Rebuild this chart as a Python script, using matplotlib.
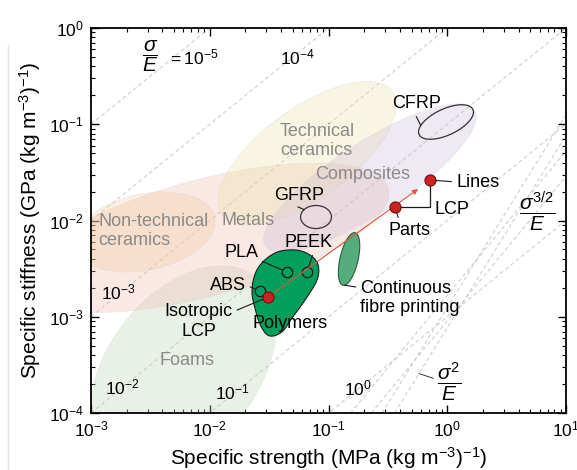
#!/usr/bin/env python3
import numpy as np
import matplotlib.pyplot as plt
from matplotlib.patches import Polygon
from matplotlib.lines import Line2D

plt.rcParams['font.family'] = ['Liberation Sans', 'DejaVu Sans']
plt.rcParams['mathtext.fontset'] = 'custom'
plt.rcParams['mathtext.rm'] = 'Liberation Sans'
plt.rcParams['mathtext.it'] = 'Liberation Sans:italic'
plt.rcParams['mathtext.bf'] = 'Liberation Sans:bold'

# background material families: centre (strength, stiffness), semi-axes in decades, tilt
family_names = ['Foams', 'Metals', 'Non-technical\nceramics', 'Technical\nceramics', 'Composites']
family_strength = [0.0060, 0.0091, 0.00285, 0.066, 0.223]
family_stiffness = [0.00029, 0.0066, 0.0076, 0.050, 0.0276]
family_major = [0.98, 1.60, 0.60, 0.885, 1.05]
family_minor = [0.63, 0.49, 0.32, 0.38, 0.30]
family_tilt = [52, 15, 12, 36, 33]
family_colors = ['#bbd4b6', '#f2b8ad', '#f2cfa0', '#ebe4a7', '#cdbbd9']

# fibre composites (outlined)
fibre_names = ['GFRP', 'CFRP']
fibre_strength = [0.0785, 0.976]
fibre_stiffness = [0.01087, 0.1055]
fibre_major = [0.13, 0.25]
fibre_minor = [0.097, 0.11]
fibre_tilt = [0, 25]

# continuous fibre printing
cfp_strength = 0.149
cfp_stiffness = 0.00398
cfp_major = 0.227
cfp_minor = 0.076
cfp_tilt = 77

# printed polymers envelope
polymer_strength = [0.0354, 0.0523, 0.0698, 0.0817, 0.0800, 0.0634, 0.0493,
                    0.0405, 0.0321, 0.0275, 0.0245, 0.0227, 0.0255]
polymer_stiffness = [0.00459, 0.00494, 0.00438, 0.00345, 0.00241, 0.00149, 0.00097,
                     0.000695, 0.000631, 0.000764, 0.00112, 0.00190, 0.00321]

# common printed polymers
print_names = ['PLA', 'ABS', 'PEEK']
print_strength = [0.0448, 0.0265, 0.0659]
print_stiffness = [0.00292, 0.00185, 0.00292]

# LCP results
lcp_names = ['Isotropic\nLCP', 'Parts', 'Lines']
lcp_strength = [0.0309, 0.363, 0.716]
lcp_stiffness = [0.00160, 0.0138, 0.0263]
arrow_tip = (0.568, 0.0212)

# guide lines
ratio_values = [1e-5, 1e-4, 1e-3, 1e-2, 1e-1, 1e0]
c15_values = [1100, 600]
c2_values = [1300, 800]

green = '#00a05c'
red = '#cc2222'
gray_txt = '#8a8a8a'

fig = plt.figure(figsize=(5.77, 4.70), dpi=100)
ax = fig.add_axes([91 / 577, 1 - 413 / 470, 475 / 577, 385 / 470])
ax.set_xscale('log')
ax.set_yscale('log')
ax.set_xlim(1e-3, 10)
ax.set_ylim(1e-4, 1)

# visual aspect: pixels per x-decade over pixels per y-decade
K = (5.77 * 475 / 577) / (4.70 * 385 / 470)


def bubble(x0, y0, a, b, tilt, t=None):
    if t is None:
        t = np.linspace(0, 2 * np.pi, 240)
    th = np.radians(tilt)
    u = a * np.cos(th) * np.cos(t) - b * np.sin(th) * np.sin(t)
    v = a * np.sin(th) * np.cos(t) + b * np.cos(th) * np.sin(t)
    return x0 * 10 ** u, y0 * 10 ** (v * K)


def smooth_closed(xs, ys, per=14):
    P = np.column_stack([np.log10(xs), np.log10(ys)])
    n = len(P)
    out = []
    for i in range(n):
        p0, p1, p2, p3 = P[i - 1], P[i], P[(i + 1) % n], P[(i + 2) % n]
        for s in np.linspace(0, 1, per, endpoint=False):
            out.append(0.5 * (2 * p1 + (-p0 + p2) * s + (2 * p0 - 5 * p1 + 4 * p2 - p3) * s ** 2
                              + (-p0 + 3 * p1 - 3 * p2 + p3) * s ** 3))
    out = np.array(out)
    return 10 ** out[:, 0], 10 ** out[:, 1]


# guide lines
xs = np.logspace(-3, 1, 50)
for c in ratio_values:
    ax.plot(xs, xs * 1e-3 / c, color='#c8c8c8', lw=0.7, dashes=(4, 3), zorder=1)
for c in c15_values:
    ax.plot(xs, xs ** 1.5 / c, color='#c8c8c8', lw=0.7, dashes=(4, 3), zorder=1)
for c in c2_values:
    ax.plot(xs, xs ** 2 / c, color='#c8c8c8', lw=0.7, dashes=(4, 3), zorder=1)

# families
for i in range(len(family_names)):
    bx, by = bubble(family_strength[i], family_stiffness[i], family_major[i],
                    family_minor[i], family_tilt[i])
    ax.add_patch(Polygon(np.column_stack([bx, by]), closed=True, facecolor=family_colors[i],
                         alpha=0.32, edgecolor='#d0d0d0', lw=0.6, zorder=2))

for i in range(len(fibre_names)):
    bx, by = bubble(fibre_strength[i], fibre_stiffness[i], fibre_major[i],
                    fibre_minor[i], fibre_tilt[i])
    ax.add_patch(Polygon(np.column_stack([bx, by]), closed=True, facecolor='none',
                         edgecolor='#333333', lw=0.9, zorder=3))

bx, by = bubble(cfp_strength, cfp_stiffness, cfp_major, cfp_minor, cfp_tilt)
ax.add_patch(Polygon(np.column_stack([bx, by]), closed=True, facecolor='#55ad7c',
                     edgecolor='#2a5e3e', lw=0.8, zorder=3))

px, py = smooth_closed(polymer_strength, polymer_stiffness)
ax.add_patch(Polygon(np.column_stack([px, py]), closed=True, facecolor=green,
                     edgecolor='#1a1a1a', lw=0.8, zorder=3))

# LCP bracket
ax.plot([lcp_strength[1], lcp_strength[2], lcp_strength[2]],
        [lcp_stiffness[1], lcp_stiffness[1], lcp_stiffness[2]],
        color='#1a1a1a', lw=0.9, zorder=4)

ax.plot(print_strength, print_stiffness, 'o', ms=7.5, mfc=green, mec='#1a1a1a', mew=0.9, zorder=5)

ax.annotate('', xy=arrow_tip, xytext=(lcp_strength[0], lcp_stiffness[0]),
            arrowprops=dict(arrowstyle='-|>', color='#e2553f', lw=0.8, mutation_scale=8,
                            shrinkA=0, shrinkB=0), zorder=6)

ax.plot(lcp_strength, lcp_stiffness, 'o', ms=8, mfc=red, mec='#6e1010', mew=0.8, zorder=7)

fs = 13
lead = dict(arrowstyle='-', lw=0.8, color='#1a1a1a', shrinkA=1)

# printed polymer labels
offsets = {'PLA': (-33, 13.7, (1, 0.1)), 'ABS': (-23, 4.3, (1, 0.5)), 'PEEK': (1.4, 21, (0.6, 0))}
for name, sx, sy in zip(print_names, print_strength, print_stiffness):
    dx, dy, rp = offsets[name]
    ax.annotate(name, xy=(sx, sy), xytext=(dx, dy), textcoords='offset points',
                ha='center', va='center', fontsize=fs, zorder=8,
                arrowprops=dict(lead, shrinkB=4, relpos=rp))

# LCP labels
ax.annotate(lcp_names[0], xy=(lcp_strength[0], lcp_stiffness[0]), xytext=(-49.7, -17.3),
            textcoords='offset points', ha='center', va='center', fontsize=fs, zorder=8,
            linespacing=1.25, arrowprops=dict(lead, shrinkB=4, relpos=(1, 0.75)))
ax.annotate(lcp_names[1], xy=(lcp_strength[1], lcp_stiffness[1]), xytext=(10.8, -16.6),
            textcoords='offset points', ha='center', va='center', fontsize=fs, zorder=8,
            arrowprops=dict(lead, shrinkB=4, relpos=(0.25, 1)))
ax.annotate(lcp_names[2], xy=(lcp_strength[2], lcp_stiffness[2]), xytext=(19.4, -1.4),
            textcoords='offset points', ha='left', va='center', fontsize=fs, zorder=8,
            arrowprops=dict(lead, shrinkB=4, shrinkA=2, relpos=(0, 0.5)))
ax.annotate('LCP', xy=(lcp_strength[2], lcp_stiffness[1]), xytext=(3.5, -1.5),
            textcoords='offset points', ha='left', va='center', fontsize=fs, zorder=8)

# fibre composite labels
gx, gy = bubble(fibre_strength[0], fibre_stiffness[0], fibre_major[0], fibre_minor[0],
                fibre_tilt[0], np.radians([140]))
ax.annotate('GFRP', xy=(gx[0], gy[0]), xytext=(-4, 10.5), textcoords='offset points',
            ha='center', va='center', fontsize=fs, zorder=8,
            arrowprops=dict(lead, shrinkB=0, relpos=(0.33, 0)))
cx, cy = bubble(fibre_strength[1], fibre_stiffness[1], fibre_major[1], fibre_minor[1],
                fibre_tilt[1], np.radians([145]))
ax.annotate('CFRP', xy=(cx[0], cy[0]), xytext=(-3, 15.5), textcoords='offset points',
            ha='center', va='center', fontsize=fs, zorder=8,
            arrowprops=dict(lead, shrinkB=0, relpos=(0.45, 0)))
fx, fy = bubble(cfp_strength, cfp_stiffness, cfp_major, cfp_minor, cfp_tilt, np.radians([190]))
ax.annotate('Continuous\nfibre printing', xy=(fx[0], fy[0]), xytext=(11, 3.5),
            textcoords='offset points', ha='left', va='top', fontsize=fs, zorder=8,
            linespacing=1.15, arrowprops=dict(lead, shrinkB=0, relpos=(0, 0.8)))

ax.text(0.0474, 0.000861, 'Polymers', ha='center', va='center', fontsize=fs, zorder=8)

# family labels
ax.text(0.0391, 0.067, 'Technical\nceramics', ha='left', va='center', fontsize=fs,
        color=gray_txt, zorder=8, linespacing=1.2)
ax.text(0.1955, 0.0297, 'Composites', ha='center', va='center', fontsize=fs, color=gray_txt, zorder=8)
ax.text(0.00115, 0.00778, 'Non-technical\nceramics', ha='left', va='center', fontsize=fs,
        color=gray_txt, zorder=8, linespacing=1.2)
ax.text(0.01268, 0.0101, 'Metals', ha='left', va='center', fontsize=fs, color=gray_txt, zorder=8)
ax.text(0.00643, 0.000355, 'Foams', ha='center', va='center', fontsize=fs, color=gray_txt, zorder=8)

# guide line labels
frac_fs = 15
ax.text(0.00314, 0.512, r'$\dfrac{\sigma}{E}$', ha='center', va='center', fontsize=frac_fs, zorder=8)
ax.text(0.00445, 0.5, r'$= 10^{-5}$', ha='left', va='center', fontsize=12.5, zorder=8)
ratio_pos = [(0.0543, 0.5), (0.00169, 0.00177), (0.00182, 0.000186), (0.0154, 0.000165),
             (0.177, 0.000182)]
for c, (tx, ty) in zip(ratio_values[1:], ratio_pos):
    ax.text(tx, ty, r'$10^{%d}$' % round(np.log10(c)), ha='center', va='center',
            fontsize=12.5, zorder=8)
ax.text(5.75, 0.0125, r'$\dfrac{\sigma^{3/2}}{E}$', ha='center', va='center', fontsize=frac_fs, zorder=8)
s2 = 0.578
ax.annotate(r'$\dfrac{\sigma^{2}}{E}$', xy=(s2, s2 ** 2 / c2_values[0]), xytext=(22, -6),
            textcoords='offset points', ha='center', va='center', fontsize=frac_fs, zorder=8,
            arrowprops=dict(lead, shrinkB=0, relpos=(0, 0.55), lw=0.6))

ax.tick_params(which='both', direction='in', top=True, right=True, labelsize=12.5)
ax.tick_params(which='major', length=6, width=1.0, pad=5)
ax.tick_params(which='minor', length=3, width=0.8)
for sp in ax.spines.values():
    sp.set_linewidth(1.3)

ax.set_xlabel(r'Specific strength (MPa (kg m$^{-3}$)$^{-1}$)', fontsize=15, labelpad=4)
ax.set_ylabel(r'Specific stiffness (GPa (kg m$^{-3}$)$^{-1}$)', fontsize=15, labelpad=4)

# faint screenshot border on the left
fig.add_artist(Line2D([8 / 577, 8 / 577], [0, 1 - 45 / 470], color='#e2e2e2', lw=1.0))

fig.savefig('out.png', dpi=100)
